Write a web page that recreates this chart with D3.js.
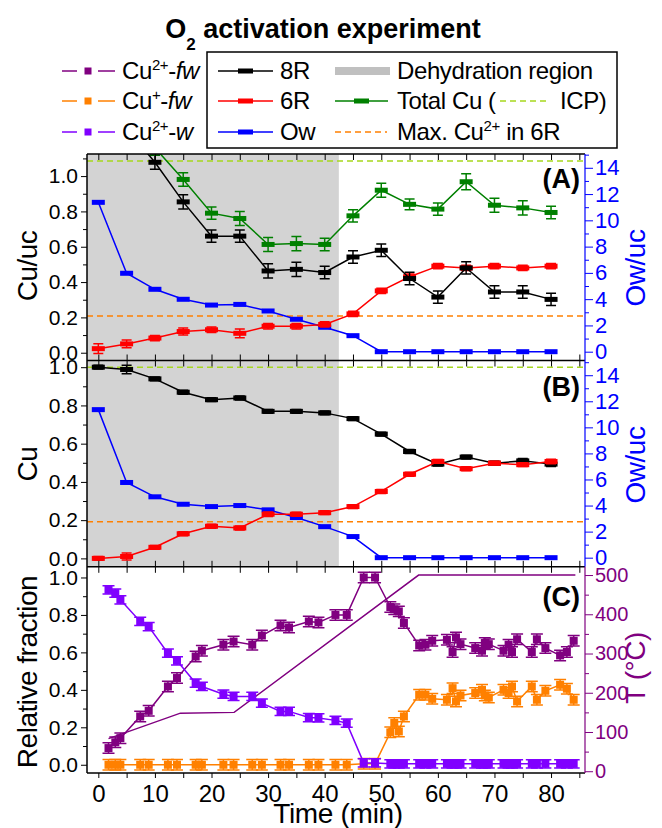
<!DOCTYPE html>
<html>
<head>
<meta charset="utf-8">
<script src="https://cdn.jsdelivr.net/npm/d3@7"></script>
<style>
  body { margin: 0; background: #fff; }
  svg { display: block; font-family: "Liberation Sans", Arial, sans-serif; }
  text { white-space: pre; }
</style>
</head>
<body>
<svg id="chart" width="662" height="828"></svg>
<script>
// ---- data ----
const timesAB = [0, 5, 10, 15, 20, 25, 30, 35, 40, 45, 50, 55, 60, 65, 70, 75, 80];

// panel A (Cu/uc and Ow/uc)
const a8R      = [1.30, 1.27, 1.078, 0.854, 0.66, 0.66, 0.463, 0.472, 0.454, 0.542, 0.58, 0.42, 0.315, 0.48, 0.344, 0.344, 0.302];
const a8RErr   = [0.04, 0.04, 0.04, 0.04, 0.035, 0.035, 0.04, 0.04, 0.035, 0.035, 0.035, 0.035, 0.035, 0.035, 0.035, 0.035, 0.035];
const a6R      = [0.023, 0.05, 0.083, 0.12, 0.13, 0.11, 0.15, 0.15, 0.16, 0.22, 0.35, 0.43, 0.49, 0.48, 0.49, 0.48, 0.49];
const a6RErr   = [0.028, 0.022, 0.015, 0.02, 0.015, 0.025, 0.015, 0.015, 0.015, 0.015, 0.015, 0.015, 0.015, 0.015, 0.015, 0.015, 0.015];
const aTotal   = [1.32, 1.30, 1.16, 0.981, 0.79, 0.76, 0.613, 0.618, 0.613, 0.775, 0.92, 0.84, 0.813, 0.968, 0.835, 0.82, 0.794];
const aTotalErr= [0.04, 0.04, 0.04, 0.038, 0.035, 0.04, 0.04, 0.04, 0.035, 0.035, 0.04, 0.03, 0.035, 0.045, 0.04, 0.04, 0.035];
const aOw      = [11.37, 5.97, 4.75, 3.99, 3.55, 3.6, 3.1, 2.47, 1.86, 1.22, 0, 0, 0, 0, 0, 0, 0];
const aICP = 1.085;
const aMaxCu2 = 0.208;

// panel B (Cu fraction and Ow/uc)
const b8R    = [1.0, 0.988, 0.939, 0.869, 0.83, 0.839, 0.769, 0.769, 0.761, 0.731, 0.65, 0.559, 0.493, 0.53, 0.498, 0.51, 0.493];
const b8RErr = [0.01, 0.022, 0.01, 0.01, 0.01, 0.01, 0.01, 0.01, 0.01, 0.01, 0.01, 0.01, 0.01, 0.01, 0.01, 0.012, 0.012];
const b6R    = [0.0, 0.01, 0.058, 0.129, 0.168, 0.159, 0.231, 0.231, 0.239, 0.271, 0.35, 0.44, 0.507, 0.469, 0.498, 0.49, 0.507];
const b6RErr = [0.01, 0.018, 0.01, 0.01, 0.01, 0.01, 0.012, 0.01, 0.01, 0.01, 0.01, 0.01, 0.01, 0.01, 0.01, 0.01, 0.012];
const bOw    = [11.36, 5.77, 4.67, 4.1, 3.92, 4.0, 3.67, 3.08, 2.38, 1.62, 0, 0, 0, 0, 0, 0, 0];
const bICP = 1.0;
const bMaxCu2 = 0.192;

// panel C (relative fractions and temperature)
const timesC = [1.8, 3.0, 3.9, 7.4, 8.9, 12.3, 13.9, 17.2, 18.3, 22.1, 23.9, 27.2, 28.9, 32.2, 33.7, 37.2, 38.9,
  41.9, 43.9, 46.9, 48.9, 51.6, 52.3, 53.1, 54.0, 56.7, 57.8, 59.0, 61.6, 62.6, 63.2, 64.0,
  66.6, 67.8, 68.3, 69.0, 71.6, 72.5, 73.1, 74.0, 76.6, 77.5, 79.0, 81.6, 82.8, 84.0];
const cCu2fw = [0.089, 0.12, 0.142, 0.258, 0.288, 0.418, 0.463, 0.578, 0.609, 0.641, 0.658, 0.641, 0.69, 0.744, 0.733, 0.765, 0.76,
  0.80, 0.80, 1.0, 1.0, 0.842, 0.83, 0.819, 0.757, 0.637, 0.641, 0.662, 0.667, 0.602, 0.68, 0.644,
  0.623, 0.609, 0.65, 0.644, 0.609, 0.641, 0.602, 0.67, 0.602, 0.67, 0.623, 0.584, 0.602, 0.662];
const cCu1fw = [0, 0, 0, 0, 0, 0, 0, 0, 0, 0, 0, 0, 0, 0, 0, 0, 0,
  0, 0, 0.005, 0.005, 0.173, 0.223, 0.178, 0.258, 0.374, 0.374, 0.352, 0.347, 0.409, 0.338, 0.37,
  0.383, 0.40, 0.37, 0.359, 0.40, 0.383, 0.418, 0.338, 0.418, 0.347, 0.395, 0.427, 0.406, 0.347];
const cCu2w = [0.934, 0.916, 0.881, 0.765, 0.738, 0.596, 0.555, 0.436, 0.418, 0.377, 0.365, 0.365, 0.329, 0.285, 0.285, 0.252, 0.25,
  0.237, 0.222, 0.01, 0.01, 0.005, 0.005, 0.005, 0.005, 0.005, 0.005, 0.005, 0.005, 0.005, 0.005, 0.005,
  0.005, 0.005, 0.005, 0.005, 0.005, 0.005, 0.005, 0.005, 0.005, 0.005, 0.005, 0.005, 0.005, 0.005];
const cErr = 0.028;
const tempTime = [1.8, 14.5, 24, 56.6, 84.3];
const tempVal  = [83, 148, 150, 500, 500];

const dehydrationEnd = 42.5;
const xMajor = [0, 10, 20, 30, 40, 50, 60, 70, 80];
const xAllTicks = [0, 5, 10, 15, 20, 25, 30, 35, 40, 45, 50, 55, 60, 65, 70, 75, 80, 85];
const cuMajor = [0, 0.2, 0.4, 0.6, 0.8, 1.0];
const cuMinor = [0.1, 0.3, 0.5, 0.7, 0.9, 1.1];
const owMajor = [0, 2, 4, 6, 8, 10, 12, 14];
const owMinor = [1, 3, 5, 7, 9, 11, 13, 15];
const tMajor = [0, 100, 200, 300, 400, 500];
const tMinor = [50, 150, 250, 350, 450];

const C = {
  r8: "#000000", r6: "#ff0000", ow: "#0000ff", tot: "#008000",
  icp: "#a6d81e", max: "#ff8000", gray: "#d3d3d3",
  fw2: "#800080", fw1: "#ff8000", w2: "#8000ff"
};

// ---- layout ----
const svg = d3.select("#chart");
const L = 87, R = 585;
const x = d3.scaleLinear().domain([-2, 86]).range([L, R]);

const panels = {
  A: { top: 154, bottom: 360.5, left: [-0.044, 1.125], right: [-0.67, 15.05] },
  B: { top: 360.5, bottom: 566.8, left: [-0.044, 1.035], right: [-0.7, 15.13] },
  C: { top: 566.8, bottom: 773, left: [-0.044, 1.057], right: [-4.5, 521] }
};

function setupPanel(key) {
  const p = panels[key];
  p.yL = d3.scaleLinear().domain(p.left).range([p.bottom, p.top]);
  p.yR = d3.scaleLinear().domain(p.right).range([p.bottom, p.top]);
  svg.append("clipPath").attr("id", "clip" + key)
    .append("rect").attr("x", L).attr("y", p.top).attr("width", R - L).attr("height", p.bottom - p.top);
  p.g = svg.append("g").attr("clip-path", `url(#clip${key})`);
  return p;
}

function errPath(cx, y1, y2, cap) {
  return `M${cx - cap / 2},${y1}H${cx + cap / 2}M${cx},${y1}V${y2}M${cx - cap / 2},${y2}H${cx + cap / 2}`;
}

function drawSeries(g, ts, vs, errs, yScale, color, mw, mh, cap) {
  const pts = ts.map((t, i) => ({ t, v: vs[i], e: errs ? (Array.isArray(errs) ? errs[i] : errs) : 0 }));
  g.append("path").datum(pts)
    .attr("fill", "none").attr("stroke", color).attr("stroke-width", 1.5)
    .attr("d", d3.line().x(d => x(d.t)).y(d => yScale(d.v)));
  g.append("g").selectAll("path").data(pts.filter(d => d.e > 0)).join("path")
    .attr("fill", "none").attr("stroke", color).attr("stroke-width", 1.5)
    .attr("d", d => errPath(x(d.t), yScale(d.v - d.e), yScale(d.v + d.e), cap));
  g.append("g").selectAll("rect").data(pts).join("rect")
    .attr("x", d => x(d.t) - mw / 2).attr("y", d => yScale(d.v) - mh / 2)
    .attr("width", mw).attr("height", mh).attr("fill", color);
}

function hDash(g, yScale, v, color) {
  g.append("line").attr("x1", L).attr("x2", R).attr("y1", yScale(v)).attr("y2", yScale(v))
    .attr("stroke", color).attr("stroke-width", 1.5).attr("stroke-dasharray", "6,4");
}

function leftAxis(p, fmt) {
  const g = svg.append("g").attr("transform", `translate(${L},0)`)
    .call(d3.axisLeft(p.yL).tickValues(cuMajor).tickFormat(fmt).tickSize(6).tickPadding(3));
  g.attr("font-family", null).attr("font-size", 21);
  g.select(".domain").remove();
  const m = svg.append("g").attr("transform", `translate(${L},0)`)
    .call(d3.axisLeft(p.yL).tickValues(cuMinor.filter(v => v <= p.left[1])).tickFormat("").tickSize(4));
  m.select(".domain").remove();
}

function rightAxis(p, major, minor, color, size) {
  const g = svg.append("g").attr("transform", `translate(${R},0)`)
    .call(d3.axisRight(p.yR).tickValues(major).tickSize(8).tickPadding(2));
  g.attr("font-family", null).attr("font-size", size);
  g.select(".domain").remove();
  g.selectAll("line").attr("stroke", color);
  g.selectAll("text").attr("fill", color);
  const m = svg.append("g").attr("transform", `translate(${R},0)`)
    .call(d3.axisRight(p.yR).tickValues(minor.filter(v => v <= p.right[1])).tickFormat("").tickSize(4));
  m.select(".domain").remove();
  m.selectAll("line").attr("stroke", color);
}

function innerXTicks(p) {
  const t = svg.append("g").attr("transform", `translate(0,${p.top})`)
    .call(d3.axisBottom(x).tickValues(xAllTicks).tickFormat("").tickSize(6));
  t.select(".domain").remove();
  if (p !== panels.C) {
    const b = svg.append("g").attr("transform", `translate(0,${p.bottom})`)
      .call(d3.axisTop(x).tickValues(xAllTicks).tickFormat("").tickSize(6));
    b.select(".domain").remove();
  }
}

function rotLabel(xp, yp, txt, color) {
  svg.append("text").attr("transform", `translate(${xp},${yp}) rotate(-90)`)
    .attr("text-anchor", "middle").attr("font-size", 28).attr("letter-spacing", -0.5)
    .attr("fill", color).text(txt);
}

function panelTag(p, txt, yb) {
  svg.append("text").attr("x", 580).attr("y", yb).attr("text-anchor", "end")
    .attr("font-size", 27).attr("font-weight", "bold").text(txt);
}

function richText(parent, xp, yp, parts) {
  const t = parent.append("text").attr("x", xp).attr("y", yp);
  let shift = 0;
  parts.forEach(part => {
    const ts = t.append("tspan").text(part.t);
    const target = part.shift || 0;
    if (target !== shift) { ts.attr("dy", target - shift); shift = target; }
    if (part.size) ts.attr("font-size", part.size);
    if (part.it) ts.attr("font-style", "italic");
  });
  return t;
}

// ---- panel A ----
const pA = setupPanel("A");
pA.g.append("rect").attr("x", L).attr("y", pA.top).attr("width", x(dehydrationEnd) - L)
  .attr("height", pA.bottom - pA.top).attr("fill", C.gray);
hDash(pA.g, pA.yL, aICP, C.icp);
hDash(pA.g, pA.yL, aMaxCu2, C.max);
drawSeries(pA.g, timesAB, aOw, null, pA.yR, C.ow, 13, 5, 10);
drawSeries(pA.g, timesAB, a6R, a6RErr, pA.yL, C.r6, 13, 5, 10);
drawSeries(pA.g, timesAB, a8R, a8RErr, pA.yL, C.r8, 13, 5, 10);
drawSeries(pA.g, timesAB, aTotal, aTotalErr, pA.yL, C.tot, 13, 5, 10);

// ---- panel B ----
const pB = setupPanel("B");
pB.g.append("rect").attr("x", L).attr("y", pB.top).attr("width", x(dehydrationEnd) - L)
  .attr("height", pB.bottom - pB.top).attr("fill", C.gray);
hDash(pB.g, pB.yL, bICP, C.icp);
hDash(pB.g, pB.yL, bMaxCu2, C.max);
drawSeries(pB.g, timesAB, bOw, null, pB.yR, C.ow, 13, 5, 10);
drawSeries(pB.g, timesAB, b8R, b8RErr, pB.yL, C.r8, 13, 5, 10);
drawSeries(pB.g, timesAB, b6R, b6RErr, pB.yL, C.r6, 13, 5, 10);

// ---- panel C ----
const pC = setupPanel("C");
pC.g.append("path").datum(tempTime.map((t, i) => ({ t, v: tempVal[i] })))
  .attr("fill", "none").attr("stroke", C.fw2).attr("stroke-width", 1.5)
  .attr("d", d3.line().x(d => x(d.t)).y(d => pC.yR(d.v)));
drawSeries(pC.g, timesC, cCu2fw, cErr, pC.yL, C.fw2, 8, 8, 12);
drawSeries(pC.g, timesC, cCu1fw, cErr, pC.yL, C.fw1, 8, 8, 12);
drawSeries(pC.g, timesC, cCu2w, 0.022, pC.yL, C.w2, 8, 8, 12);

// ---- axes ----
[pA, pB, pC].forEach(p => { leftAxis(p, d3.format(".1f")); innerXTicks(p); });
rightAxis(pA, owMajor, owMinor, C.ow, 22);
rightAxis(pB, owMajor, owMinor, C.ow, 22);
rightAxis(pC, tMajor, tMinor, C.fw2, 20);

const xb = svg.append("g").attr("transform", `translate(0,${pC.bottom})`)
  .call(d3.axisBottom(x).tickValues(xAllTicks).tickSize(5).tickPadding(7)
    .tickFormat(d => xMajor.includes(d) ? d : ""));
xb.attr("font-family", null).attr("font-size", 24);
xb.select(".domain").remove();

// frame
const frame = svg.append("g").attr("fill", "none").attr("stroke-width", 1.5);
frame.append("line").attr("x1", L).attr("x2", L).attr("y1", pA.top).attr("y2", pC.bottom).attr("stroke", "#000");
[pA.top, pA.bottom, pB.bottom, pC.bottom].forEach(y =>
  frame.append("line").attr("x1", L).attr("x2", R).attr("y1", y).attr("y2", y).attr("stroke", "#000"));
frame.append("line").attr("x1", R).attr("x2", R).attr("y1", pA.top).attr("y2", pB.bottom).attr("stroke", C.ow).attr("stroke-width", 1.2);
frame.append("line").attr("x1", R).attr("x2", R).attr("y1", pB.bottom).attr("y2", pC.bottom).attr("stroke", C.fw2).attr("stroke-width", 1.2);

// axis titles
rotLabel(37, 266, "Cu/uc", "#000");
rotLabel(37, 464, "Cu", "#000");
rotLabel(37, 672, "Relative fraction", "#000");
rotLabel(645, 268, "Ow/uc", C.ow);
rotLabel(645, 465, "Ow/uc", C.ow);
rotLabel(645, 668, "T (°C)", C.fw2);
svg.append("text").attr("x", 338).attr("y", 823).attr("text-anchor", "middle")
  .attr("font-size", 28).attr("letter-spacing", -0.3).text("Time (min)");

panelTag(pA, "(A)", 188);
panelTag(pB, "(B)", 396);
panelTag(pC, "(C)", 606);

// ---- title ----
richText(svg, 323, 38, [{ t: "O" }, { t: "2", shift: 12, size: 17 }, { t: " activation experiment" }])
  .attr("text-anchor", "middle").attr("font-size", 27).attr("font-weight", "bold");

// ---- legend ----
const leg = svg.append("g").attr("font-size", 24).attr("letter-spacing", -0.4);
const rowY = [71, 101, 132];
const fwItems = [
  { color: C.fw2, parts: [{ t: "Cu" }, { t: "2+", shift: -9, size: 15 }, { t: "-" }, { t: "fw", it: true }] },
  { color: C.fw1, parts: [{ t: "Cu" }, { t: "+", shift: -9, size: 15 }, { t: "-" }, { t: "fw", it: true }] },
  { color: C.w2,  parts: [{ t: "Cu" }, { t: "2+", shift: -9, size: 15 }, { t: "-" }, { t: "w", it: true }] }
];
fwItems.forEach((it, i) => {
  const y = rowY[i];
  leg.append("line").attr("x1", 62).attr("x2", 77).attr("y1", y).attr("y2", y).attr("stroke", it.color).attr("stroke-width", 1.5);
  leg.append("line").attr("x1", 98).attr("x2", 115).attr("y1", y).attr("y2", y).attr("stroke", it.color).attr("stroke-width", 1.5);
  leg.append("rect").attr("x", 84.5).attr("y", y - 3.5).attr("width", 7).attr("height", 7).attr("fill", it.color);
  richText(leg, 122, y + 8, it.parts);
});

leg.append("rect").attr("x", 207).attr("y", 52).attr("width", 410).attr("height", 96)
  .attr("fill", "none").attr("stroke", "#000").attr("stroke-width", 1.5);

function lineMarker(x1, x2, y, color) {
  leg.append("line").attr("x1", x1).attr("x2", x2).attr("y1", y).attr("y2", y).attr("stroke", color).attr("stroke-width", 1.5);
  leg.append("rect").attr("x", (x1 + x2) / 2 - 7.5).attr("y", y - 2.5).attr("width", 15).attr("height", 5).attr("fill", color);
}
const boxItems = [
  { color: C.r8, label: "8R" },
  { color: C.r6, label: "6R" },
  { color: C.ow, label: "Ow" }
];
boxItems.forEach((it, i) => {
  lineMarker(218, 273, rowY[i], it.color);
  leg.append("text").attr("x", 280).attr("y", rowY[i] + 8).text(it.label);
});

leg.append("rect").attr("x", 335).attr("y", rowY[0] - 4).attr("width", 55).attr("height", 8).attr("fill", "#c0c0c0");
leg.append("text").attr("x", 397).attr("y", rowY[0] + 8).text("Dehydration region");
lineMarker(335, 388, rowY[1], C.tot);
leg.append("text").attr("x", 397).attr("y", rowY[1] + 8).text("Total Cu (");
leg.append("line").attr("x1", 500).attr("x2", 550).attr("y1", rowY[1]).attr("y2", rowY[1])
  .attr("stroke", C.icp).attr("stroke-width", 1.5).attr("stroke-dasharray", "6,4");
leg.append("text").attr("x", 560).attr("y", rowY[1] + 8).text("ICP)");
leg.append("line").attr("x1", 335).attr("x2", 387).attr("y1", rowY[2]).attr("y2", rowY[2])
  .attr("stroke", C.max).attr("stroke-width", 1.5).attr("stroke-dasharray", "6,4");
richText(leg, 397, rowY[2] + 8, [{ t: "Max. Cu" }, { t: "2+", shift: -9, size: 15 }, { t: " in 6R" }]);
</script>
</body>
</html>
